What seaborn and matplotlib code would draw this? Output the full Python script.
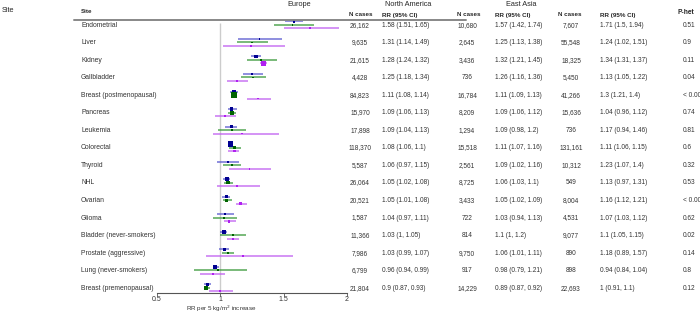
import numpy as np
import pandas as pd
import matplotlib
matplotlib.use("Agg")
import matplotlib.pyplot as plt
import seaborn as sns

# ---- data ----
sites = ["Endometrial", "Liver", "Kidney", "Gallbladder", "Breast (postmenopausal)",
         "Pancreas", "Leukemia", "Colorectal", "Thyroid", "NHL", "Ovarian", "Glioma",
         "Bladder (never-smokers)", "Prostate (aggressive)", "Lung (never-smokers)",
         "Breast (premenopausal)"]

eu_n = ["26,162", "9,635", "21,615", "4,428", "84,823", "15,970", "17,898", "118,370",
        "5,587", "26,064", "20,521", "1,587", "11,366", "7,986", "6,799", "21,804"]
eu_rr = [1.58, 1.31, 1.28, 1.25, 1.11, 1.09, 1.09, 1.08, 1.06, 1.05, 1.05, 1.04, 1.03, 1.03, 0.96, 0.9]
eu_lo = [1.51, 1.14, 1.24, 1.18, 1.08, 1.06, 1.04, 1.06, 0.97, 1.02, 1.01, 0.97, 1, 0.99, 0.94, 0.87]
eu_hi = [1.65, 1.49, 1.32, 1.34, 1.14, 1.13, 1.13, 1.1, 1.15, 1.08, 1.08, 1.11, 1.05, 1.07, 0.99, 0.93]

na_n = ["10,680", "2,645", "3,436", "736", "16,784", "8,209", "1,294", "15,518",
        "2,561", "8,725", "3,433", "722", "814", "9,750", "917", "14,229"]
na_rr = [1.57, 1.25, 1.32, 1.26, 1.11, 1.09, 1.09, 1.11, 1.09, 1.06, 1.05, 1.03, 1.1, 1.06, 0.98, 0.89]
na_lo = [1.42, 1.13, 1.21, 1.16, 1.09, 1.06, 0.98, 1.07, 1.02, 1.03, 1.02, 0.94, 1, 1.01, 0.79, 0.87]
na_hi = [1.74, 1.38, 1.45, 1.36, 1.13, 1.12, 1.2, 1.16, 1.16, 1.1, 1.09, 1.13, 1.2, 1.11, 1.21, 0.92]

ea_n = ["7,607", "55,548", "18,325", "5,450", "41,266", "15,636", "736", "131,161",
        "10,312", "549", "8,004", "4,531", "9,077", "890", "898", "22,693"]
ea_rr = [1.71, 1.24, 1.34, 1.13, 1.3, 1.04, 1.17, 1.11, 1.23, 1.13, 1.16, 1.07, 1.1, 1.18, 0.94, 1]
ea_lo = [1.5, 1.02, 1.31, 1.05, 1.21, 0.96, 0.94, 1.06, 1.07, 0.97, 1.12, 1.03, 1.05, 0.89, 0.84, 0.91]
ea_hi = [1.94, 1.51, 1.37, 1.22, 1.4, 1.12, 1.46, 1.15, 1.4, 1.31, 1.21, 1.12, 1.15, 1.57, 1.04, 1.1]

p_het = ["0.51", "0.9", "0.11", "0.04", "< 0.001", "0.74", "0.81", "0.6", "0.32", "0.53",
         "< 0.001", "0.62", "0.02", "0.14", "0.8", "0.12"]

regions = ["Europe", "North America", "East Asia"]
marker_col = {"Europe": "#000090", "North America": "#006400", "East Asia": "#b020f0"}
line_col = {"Europe": "#5a5ad0", "North America": "#3a9a3a", "East Asia": "#c060f0"}
sub_off = {"Europe": -3.8, "North America": -0.3, "East Asia": 3.2}

W, H = 700, 314
row_y0, row_dy = 25.2, 17.53


def fx(x):
    return x / W


def fy(y):
    return 1 - y / H


def fmt(v):
    return ("%.2f" % v).rstrip("0").rstrip(".")


def rr_text(r, lo, hi):
    return "%s (%s, %s)" % (fmt(r), fmt(lo), fmt(hi))


rows = []
for reg, rr, lo, hi in [("Europe", eu_rr, eu_lo, eu_hi),
                        ("North America", na_rr, na_lo, na_hi),
                        ("East Asia", ea_rr, ea_lo, ea_hi)]:
    for i, s in enumerate(sites):
        rows.append(dict(site=s, region=reg, rr=rr[i], lo=lo[i], hi=hi[i],
                         ypos=row_y0 + row_dy * i + sub_off[reg]))
df = pd.DataFrame(rows)
# marker side scaled with precision of the estimate
w = 1 / np.log(df.hi / df.lo) ** 2
side_px = np.maximum(1.8, 6.0 * np.sqrt(w / 770))
df["area"] = (side_px * 0.72) ** 2

sns.set_theme(style="white")
plt.rcParams["font.family"] = ["Liberation Sans", "DejaVu Sans"]

fig = plt.figure(figsize=(7, 3.14), dpi=100)
ax = fig.add_axes([fx(157), 21 / H, 190 / W, 293 / H])
ax.set_xlim(0.5, 2)
ax.set_ylim(293, 0)

ax.vlines(1, 23, 293, color="#cccccc", lw=1, zorder=0)
for reg in regions:
    d = df[df.region == reg]
    ax.hlines(d.ypos, d.lo, d.hi, color=line_col[reg], lw=1.2, alpha=0.8, zorder=1, clip_on=False)
sns.scatterplot(data=df, x="rr", y="ypos", hue="region", palette=marker_col,
                size="area", sizes=(df.area.min(), df.area.max()),
                size_norm=(df.area.min(), df.area.max()),
                marker="s", linewidth=0, legend=False, ax=ax, zorder=2, clip_on=False)

for sp in ["top", "right", "left"]:
    ax.spines[sp].set_visible(False)
ax.spines["bottom"].set_color("#555555")
ax.spines["bottom"].set_linewidth(0.8)
ax.set_yticks([])
ax.set_xticks([0.5, 1, 1.5, 2])
ax.set_xticklabels(["0.5", "1", "1.5", "2"])
ax.tick_params(axis="x", bottom=True, direction="out", length=2.2, width=0.6,
               color="#555555", labelsize=5, pad=0.3, labelcolor="#333333")
ax.set_xlabel("")
ax.set_ylabel("")
fig.text(fx(221), fy(309), "RR per 5 kg/m$^2$ increase", fontsize=4.5, ha="center", va="center", color="#333333")

# header
fig.text(fx(2), fy(10), "Site", fontsize=5.3, ha="left", va="center")
fig.text(fx(81), fy(11.5), "Site", fontsize=4.5, weight="bold", ha="left", va="center")
fig.text(fx(299), fy(4.5), "Europe", fontsize=5.3, ha="center", va="center")
fig.text(fx(408), fy(5), "North America", fontsize=5.3, ha="center", va="center")
fig.text(fx(521), fy(4.5), "East Asia", fontsize=5.3, ha="center", va="center")
for xn, xr in [(361, 382), (469, 495), (570, 600)]:
    fig.text(fx(xn), fy(15), "N cases", fontsize=4.5, weight="bold", ha="center", va="center")
    fig.text(fx(xr), fy(15), "RR (95% CI)", fontsize=4.5, weight="bold", ha="left", va="center")
fig.text(fx(686), fy(13), "P-het", fontsize=4.8, weight="bold", ha="center", va="center")
fig.add_artist(plt.Line2D([fx(74), fx(466)], [fy(20), fy(20)], color="#888888", lw=1.4))

# table body
for i, s in enumerate(sites):
    y = fy(row_y0 + row_dy * i)
    fig.text(fx(81), y, s, fontsize=4.9, ha="left", va="center", color="#333333")
    cols = [(360, 382, eu_n[i], rr_text(eu_rr[i], eu_lo[i], eu_hi[i])),
            (467, 495, na_n[i], rr_text(na_rr[i], na_lo[i], na_hi[i])),
            (571, 600, ea_n[i], rr_text(ea_rr[i], ea_lo[i], ea_hi[i]))]
    for xn, xr, n, t in cols:
        fig.text(fx(xn), y, n, fontsize=4.7, ha="center", va="center", color="#333333")
        fig.text(fx(xr), y, t, fontsize=4.7, ha="left", va="center", color="#333333")
    fig.text(fx(683), y, p_het[i], fontsize=4.7, ha="left", va="center", color="#333333")

fig.savefig("out.png", dpi=100)
